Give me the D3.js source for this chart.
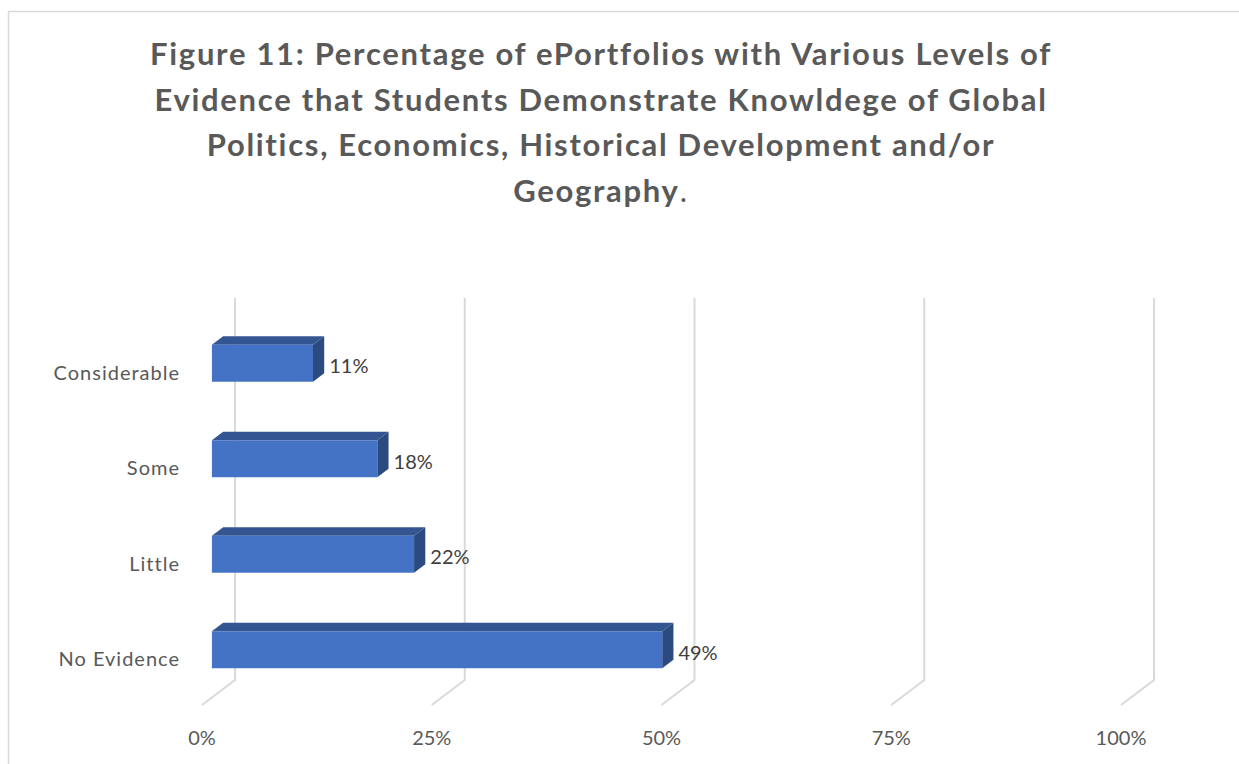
<!DOCTYPE html>
<html lang="en">
<head>
<meta charset="UTF-8">
<title>Figure 11</title>
<script src="https://cdn.jsdelivr.net/npm/d3@7"></script>
<style>
  body { margin: 0; background: #fff; }
  text { font-family: Lato, "Open Sans", sans-serif; }
</style>
</head>
<body>
<script>
// data
var categories = ["No Evidence", "Little", "Some", "Considerable"];
var values = [0.49, 0.22, 0.18, 0.11];
var ticks = [0, 0.25, 0.5, 0.75, 1];
var titleLines = [
  "Figure 11: Percentage of ePortfolios with Various Levels of",
  "Evidence that Students Demonstrate Knowldege of Global",
  "Politics, Economics, Historical Development and/or",
  "Geography"
];

var width = 1239, height = 764;
var svg = d3.select("body").append("svg").attr("width", width).attr("height", height);

// chart border
svg.append("rect").attr("x", 8.5).attr("y", 11.5).attr("width", 1300).attr("height", 800)
  .attr("fill", "none").attr("stroke", "#d9d9d9").attr("stroke-width", 1.5);

// title
var title = svg.append("text").attr("text-anchor", "middle").attr("fill", "#595959")
  .attr("font-weight", "bold").attr("font-size", 31).attr("letter-spacing", 1.7);
titleLines.forEach(function(t, i) {
  title.append("tspan").attr("x", 601).attr("y", 65 + i * 45.5).text(t);
  if (i === titleLines.length - 1) title.append("tspan").attr("font-weight", "normal").text(".");
});

// 3d-ish projection: back wall + depth offset
var depthX = -33, depthY = 25;
var x = d3.scaleLinear().domain([0, 1]).range([235, 1154]);
var y = d3.scaleBand().domain(categories.slice().reverse()).range([298, 680])
  .paddingInner(0.613).paddingOuter(0.3065);
var floorY = 680;

function px(v, d) { return x(v) + depthX * d; }
function py(yy, d) { return yy + depthY * d; }

// gridlines on back wall and floor
var grid = svg.append("g").attr("stroke", "#d9d9d9").attr("stroke-width", 2).attr("fill", "none");
ticks.forEach(function(t) {
  grid.append("path").attr("d", d3.line()([[x(t), 298], [x(t), floorY], [px(t, 1), py(floorY, 1)]]));
});

// tick labels
svg.append("g").selectAll("text").data(ticks).enter().append("text")
  .attr("x", function(d) { return px(d, 1); }).attr("y", 737)
  .attr("text-anchor", "middle").attr("dominant-baseline", "central")
  .attr("font-size", 20).attr("fill", "#595959")
  .text(function(d) { return d3.format(".0%")(d); });

// category labels
svg.append("g").selectAll("text").data(categories).enter().append("text")
  .attr("x", 180).attr("y", function(d) { return py(y(d) + y.bandwidth() / 2, 1) + 1; })
  .attr("text-anchor", "end").attr("dominant-baseline", "central")
  .attr("font-size", 20).attr("letter-spacing", 1).attr("fill", "#595959")
  .text(function(d) { return d; });

// bars
var dFront = 0.7, dBack = 0.36;
var bars = svg.append("g").selectAll("g").data(categories).enter().append("g");
bars.each(function(c, i) {
  var g = d3.select(this), v = values[i];
  var y0 = y(c), y1 = y(c) + y.bandwidth();
  // top face
  g.append("path").attr("fill", "#335591").attr("d", d3.line()([
    [px(0, dFront), py(y0, dFront)], [px(v, dFront), py(y0, dFront)],
    [px(v, dBack), py(y0, dBack)], [px(0, dBack), py(y0, dBack)]
  ]) + "Z");
  // side face
  g.append("path").attr("fill", "#2b4a80").attr("d", d3.line()([
    [px(v, dFront), py(y0, dFront)], [px(v, dBack), py(y0, dBack)],
    [px(v, dBack), py(y1, dBack)], [px(v, dFront), py(y1, dFront)]
  ]) + "Z");
  // front face
  g.append("rect").attr("fill", "#4472c4")
    .attr("x", px(0, dFront)).attr("y", py(y0, dFront))
    .attr("width", px(v, dFront) - px(0, dFront)).attr("height", y1 - y0);
  // value label
  g.append("text").attr("x", px(v, dBack) + 5).attr("y", py((y0 + y1) / 2, dFront) + 2)
    .attr("dominant-baseline", "central").attr("font-size", 20).attr("fill", "#404040")
    .text(d3.format(".0%")(v));
});
</script>
</body>
</html>
